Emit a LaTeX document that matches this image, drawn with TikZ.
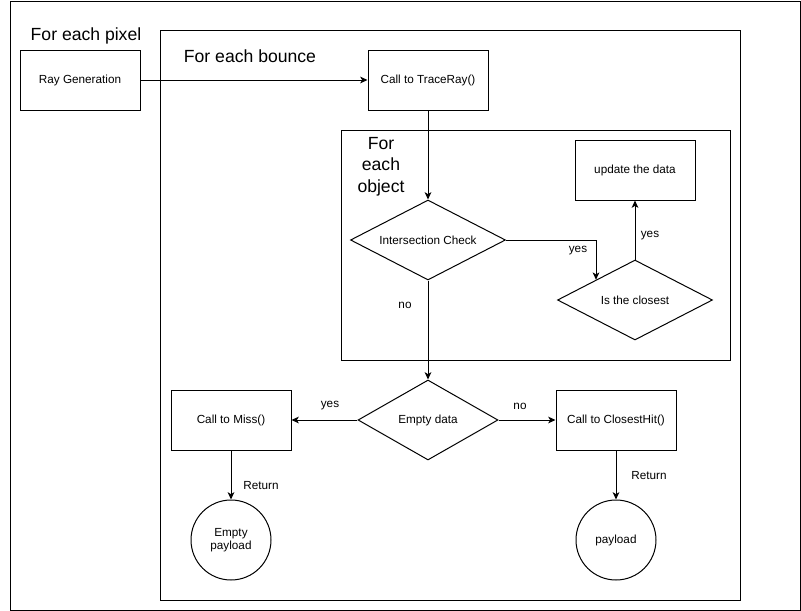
\documentclass[tikz,border=0pt]{standalone}
\usepackage{fontspec}
\setmainfont{Liberation Sans}
\usetikzlibrary{shapes.geometric,arrows.meta}
\begin{document}
\begin{tikzpicture}[x=0.75pt,y=-0.75pt,
  every node/.style={font=\fontsize{8.8}{10}\selectfont, inner sep=0pt},
  box/.style={draw, line width=0.75pt, minimum width=120*0.75pt, minimum height=60*0.75pt},
  dia/.style={draw, diamond, shape aspect=2, line width=0.75pt, minimum height=80*0.75pt},
  circ/.style={draw, circle, line width=0.75pt, minimum size=80*0.75pt, align=center},
  frame/.style={draw, line width=0.75pt, anchor=north west},
  title/.style={font=\fontsize{13.2}{16.1}\selectfont, align=center},
  arr/.style={line width=0.75pt, -{Stealth[length=5.5pt,width=5pt,inset=1.5pt]}}
]
\useasboundingbox (0,0) rectangle (801,611);
% frames
\node[frame, minimum width=790*0.75pt, minimum height=609*0.75pt] (outer) at (10,1) {};
\node[frame, minimum width=580*0.75pt, minimum height=570*0.75pt] (bounce) at (160,30) {};
\node[frame, minimum width=389*0.75pt, minimum height=230*0.75pt] (object) at (341,130) {};
% titles
\node[title] (tpixel) at (86,36) {For each pixel};
\node[title] (tbounce) at (250,56) {For each bounce};
\node[title] (tobject) at (381,166.5) {For\\each\\object};
% nodes
\node[box] (ray) at (80,80) {Ray Generation};
\node[box] (trace) at (428,80) {Call to TraceRay()};
\node[box] (update) at (635,170) {update the data};
\node[dia, minimum width=155*0.75pt] (int) at (428,240) {Intersection Check};
\node[dia, minimum width=155*0.75pt] (close) at (635,300) {Is the closest};
\node[dia, minimum width=140*0.75pt] (empty) at (428,420) {Empty data};
\node[box] (miss) at (231,420) {Call to Miss()};
\node[box] (hit) at (616,420) {Call to ClosestHit()};
\node[circ] (epay) at (231,540) {Empty\\payload};
\node[circ] (pay) at (616,540) {payload};
% connectors
\draw[arr] (ray) -- (trace);
\draw[arr] (trace) -- (int);
\draw[arr] (int.east) -| (close.north west);
\draw[arr] (close) -- (update);
\draw[arr] (int) -- (empty);
\draw[arr] (empty) -- (miss);
\draw[arr] (empty) -- (hit);
\draw[arr] (miss) -- (epay);
\draw[arr] (hit) -- (pay);
% labels
\node (l1) at (578,251) {yes};
\node (l2) at (650,236) {yes};
\node (l3) at (405,305) {no};
\node (l4) at (330,406) {yes};
\node (l5) at (520,406) {no};
\node (l6) at (261,486) {Return};
\node (l7) at (649,476) {Return};
\end{tikzpicture}
\end{document}
